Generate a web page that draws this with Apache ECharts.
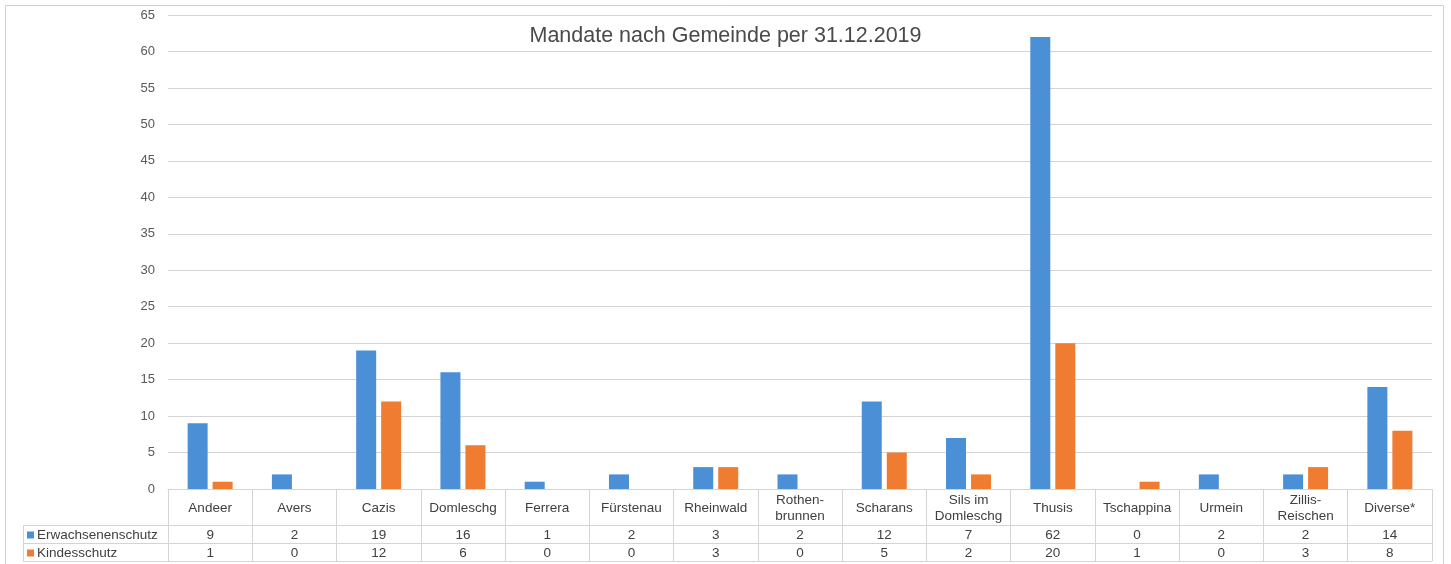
<!DOCTYPE html>
<html>
<head>
<meta charset="utf-8">
<script src="https://cdn.jsdelivr.net/npm/echarts@6/dist/echarts.min.js"></script>
<style>
  html, body { margin: 0; padding: 0; background: #fff; }
  #chart { width: 1451px; height: 564px; }
</style>
</head>
<body>
<div id="chart"></div>
<script>
// Daten
var gemeinden = ['Andeer', 'Avers', 'Cazis', 'Domleschg', 'Ferrera', 'Fürstenau', 'Rheinwald',
    'Rothen-\nbrunnen', 'Scharans', 'Sils im\nDomleschg', 'Thusis', 'Tschappina', 'Urmein',
    'Zillis-\nReischen', 'Diverse*'];
var erwachsenenschutz = [9, 2, 19, 16, 1, 2, 3, 2, 12, 7, 62, 0, 2, 2, 14];
var kindesschutz = [1, 0, 12, 6, 0, 0, 3, 0, 5, 2, 20, 1, 0, 3, 8];
var serienNamen = ['Erwachsenenschutz', 'Kindesschutz'];

var blau = '#4b8fd6';
var orange = '#ef7c31';
var linie = '#d6d3d3';
var schrift = '#404040';
var font = 'Liberation Sans';

// Achse fuer eine Tabellenzeile
function tabellenAchse(daten, offset, hoehe) {
    return {
        type: 'category',
        position: 'bottom',
        offset: offset,
        data: daten,
        axisLine: { show: true, lineStyle: { color: linie, width: 1 } },
        axisTick: { show: true, interval: 0, length: hoehe, lineStyle: { color: linie } },
        axisLabel: {
            interval: 0, color: schrift, fontFamily: font, fontSize: 13.5,
            margin: hoehe / 2 + 1, verticalAlign: 'middle', lineHeight: 16
        }
    };
}

// Legende je Tabellenzeile
function zeilenLegende(name, top) {
    return {
        orient: 'vertical', left: 27, top: top, padding: 0,
        icon: 'rect', itemWidth: 7, itemHeight: 7,
        data: [name],
        textStyle: { color: schrift, fontFamily: font, fontSize: 13.5, padding: [0, 0, 0, -2] }
    };
}

function generateChart() {
    var myChart = echarts.init(document.getElementById('chart'));
    var option = {
        animation: false,
        title: {
            text: 'Mandate nach Gemeinde per 31.12.2019',
            left: 'center', top: 20,
            textStyle: { color: '#4a4a4a', fontFamily: font, fontSize: 21.5, fontWeight: 'normal' }
        },
        legend: [
            zeilenLegende(serienNamen[0], 528),
            zeilenLegende(serienNamen[1], 546)
        ],
        grid: { left: 168, right: 19, top: 15, bottom: 75 },
        xAxis: [
            tabellenAchse(gemeinden, 0, 36),
            tabellenAchse(erwachsenenschutz.map(String), 36, 18),
            tabellenAchse(kindesschutz.map(String), 54, 18)
        ],
        yAxis: {
            type: 'value', min: 0, max: 65, interval: 5,
            axisLine: { show: false },
            axisTick: { show: false },
            axisLabel: { color: '#595959', fontFamily: font, fontSize: 13, margin: 13 },
            splitLine: { lineStyle: { color: linie, width: 1 } }
        },
        series: [
            { name: serienNamen[0], type: 'bar', xAxisIndex: 0, data: erwachsenenschutz,
              barWidth: 20, barGap: '25%', itemStyle: { color: blau } },
            { name: serienNamen[1], type: 'bar', xAxisIndex: 0, data: kindesschutz,
              barWidth: 20, itemStyle: { color: orange } }
        ],
        graphic: [
            // Rahmen
            { type: 'rect', shape: { x: 5.5, y: 5.5, width: 1438, height: 570 },
              style: { fill: null, stroke: '#d0d0d0', lineWidth: 1 }, silent: true },
            // Kopfspalte der Tabelle
            { type: 'line', shape: { x1: 23.5, y1: 525, x2: 23.5, y2: 561 }, style: { stroke: linie } },
            { type: 'line', shape: { x1: 23, y1: 525.5, x2: 168, y2: 525.5 }, style: { stroke: linie } },
            { type: 'line', shape: { x1: 23, y1: 543.5, x2: 168, y2: 543.5 }, style: { stroke: linie } },
            { type: 'line', shape: { x1: 23, y1: 561.5, x2: 1432, y2: 561.5 }, style: { stroke: linie } }
        ]
    };
    myChart.setOption(option);
}

generateChart();
</script>
</body>
</html>
